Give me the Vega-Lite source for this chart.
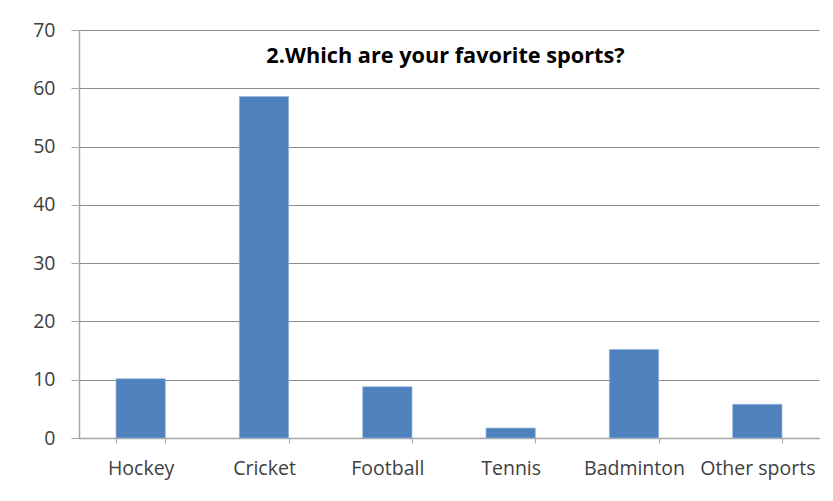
{
  "$schema": "https://vega.github.io/schema/vega-lite/v6.json",
  "autosize": "none",
  "padding": {"left": 79, "top": 30, "right": 14, "bottom": 63},
  "width": 740,
  "height": 408,
  "background": "white",
  "config": {
    "view": {"stroke": null},
    "axis": {
      "labelFont": "Open Sans",
      "labelFontSize": 19.5,
      "labelColor": "#404040",
      "domainColor": "#a6a6a6",
      "tickColor": "#a6a6a6",
      "title": null
    }
  },
  "datasets": {
    "sports": [
      {"sport": "Hockey", "value": 10.17},
      {"sport": "Cricket", "value": 58.57},
      {"sport": "Football", "value": 8.8},
      {"sport": "Tennis", "value": 1.71},
      {"sport": "Badminton", "value": 15.2},
      {"sport": "Other sports", "value": 5.78}
    ],
    "heading": [
      {"label": "2.Which are your favorite sports?"}
    ]
  },
  "layer": [
    {
      "data": {"name": "sports"},
      "mark": {"type": "bar", "color": "#4f81bd", "stroke": "#9bb9dd", "strokeWidth": 0.7},
      "encoding": {
        "x": {
          "field": "sport",
          "type": "nominal",
          "sort": null,
          "scale": {"paddingInner": 0.6, "paddingOuter": 0.3},
          "axis": {
            "labelAngle": 0,
            "tickBand": "extent",
            "tickSize": 5,
            "labelPadding": 16,
            "domainWidth": 1.5
          }
        },
        "y": {
          "field": "value",
          "type": "quantitative",
          "scale": {"domain": [0, 70], "nice": false},
          "axis": {
            "values": [0, 10, 20, 30, 40, 50, 60, 70],
            "tickSize": 8,
            "labelPadding": 16,
            "grid": true,
            "gridColor": "#8c8c8c",
            "gridWidth": 1,
            "domainWidth": 1.5
          }
        }
      }
    },
    {
      "data": {"name": "heading"},
      "mark": {
        "type": "text",
        "x": {"expr": "width / 2"},
        "dx": -3.5,
        "align": "center",
        "baseline": "alphabetic",
        "font": "Open Sans",
        "fontSize": 21.7,
        "fontWeight": "bold",
        "color": "#000000"
      },
      "encoding": {
        "y": {"datum": 64.3, "type": "quantitative"},
        "text": {"field": "label", "type": "nominal"}
      }
    }
  ]
}
